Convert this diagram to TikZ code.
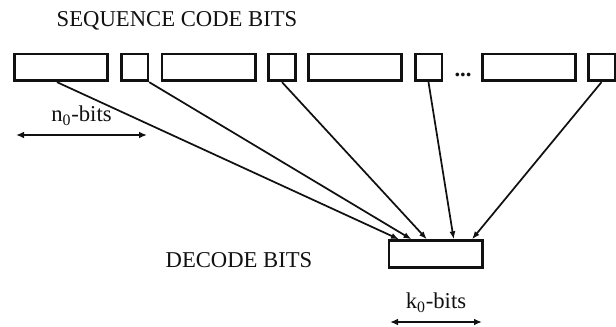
\documentclass[tikz,border=0pt]{standalone}
\usepackage{fontspec}
\setmainfont{Liberation Serif}
\usepackage{tikz}
\usetikzlibrary{arrows.meta,positioning,calc}
\definecolor{Ink}{HTML}{111111}
\tikzset{
  bitbox/.style={draw=Ink,line width=2pt,fill=white,minimum height=20pt,inner sep=0pt},
  widebox/.style={bitbox,minimum width=70pt},
  smallbox/.style={bitbox,minimum width=20pt},
  label/.style={text=Ink,inner sep=0pt,font=\fontsize{17}{20}\selectfont},
  wire/.style={-{Latex[length=6pt,width=4.5pt]},line width=1.3pt,draw=Ink},
  span/.style={{Latex[length=6pt,width=5pt]}-{Latex[length=6pt,width=5pt]},line width=1.5pt,draw=Ink}
}

\begin{document}
\begin{tikzpicture}[x=0.75pt,y=-0.75pt]
  \useasboundingbox (0,0) rectangle (616,327);
  \node[label] (seqtxt) at (177,21) {SEQUENCE CODE BITS};
  % code word blocks
  \node[widebox] (b1) at (61,67.5) {};
  \node[smallbox] (b2) at (134.5,67.5) {};
  \node[widebox] (b3) at (208.5,67.5) {};
  \node[smallbox] (b4) at (282,67.5) {};
  \node[widebox] (b5) at (355,67.5) {};
  \node[smallbox] (b6) at (428.5,67.5) {};
  \node[label] (dots) at (463,75) {\textbf{...}};
  \node[widebox] (b7) at (529,67.5) {};
  \node[smallbox] (b8) at (601.5,67.5) {};
  % decoded block
  \node[widebox] (dec) at (435.5,254) {};
  \node[label] (dectxt) at (239,260) {DECODE BITS};
  \draw[wire] ([xshift=-3pt]b1.south) -- ($(dec.north west)!0.12!(dec.north east)$);
  \draw[wire] (b2.south east) -- ($(dec.north west)!0.25!(dec.north east)$);
  \draw[wire] (b4.south) -- ($(dec.north west)!0.41!(dec.north east)$);
  \draw[wire] (b6.south) -- ($(dec.north west)!0.69!(dec.north east)$);
  \draw[wire] (b8.south) -- ($(dec.north west)!0.88!(dec.north east)$);
  % block lengths
  \coordinate (nl) at (16,135); \coordinate (nr) at (147,135);
  \draw[span] (nl) -- (nr);
  \node[label,above=7pt of $(nl)!0.5!(nr)$] (ntxt) {n\textsubscript{0}-bits};
  \coordinate (kl) at (390,322); \coordinate (kr) at (482,322);
  \draw[span] (kl) -- (kr);
  \node[label,above=7pt of $(kl)!0.5!(kr)$] (ktxt) {k\textsubscript{0}-bits};
\end{tikzpicture}
\end{document}
